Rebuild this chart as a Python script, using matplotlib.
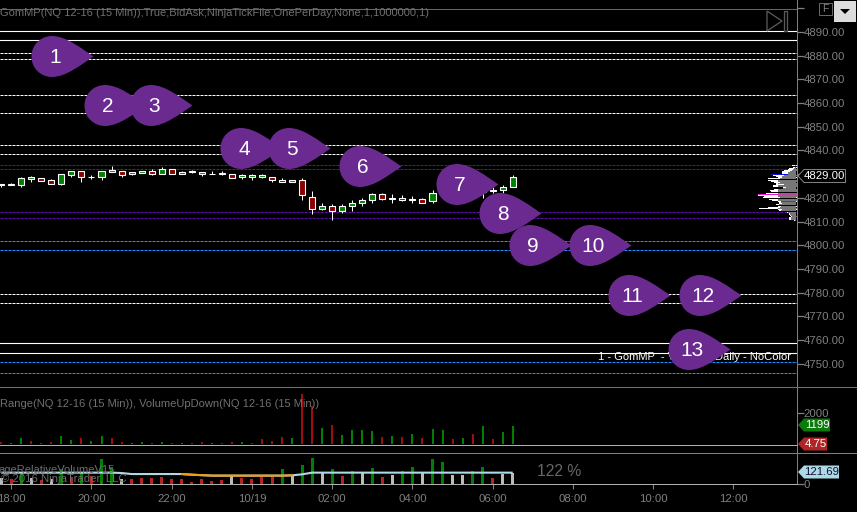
import matplotlib
matplotlib.use("Agg")
import matplotlib.pyplot as plt
from matplotlib.lines import Line2D
from matplotlib.patches import Polygon
from matplotlib.path import Path
from matplotlib.transforms import Affine2D, IdentityTransform, blended_transform_factory

plt.rcParams['font.family'] = ['Liberation Sans', 'DejaVu Sans']

# ---- data -------------------------------------------------------------
opens = [4825.25,4825.25,4825.5,4828,4828.25,4827.5,4826,4829.75,4831.25,4828.75,4829,4831,4831.25,4830.25,4830.5,4831.5,4830.25,4832,4830.25,4831,4830.25,4830,4830.25,4830.25,4828.75,4829,4829,4829,4827.5,4826.5,4827.5,4820.5,4815.5,4816.75,4814.25,4816.75,4817.75,4819,4821.5,4819.5,4819.75,4819,4819.5,4818.5,4822.25,4823,4823.5,4823,4822.5,4823,4823.25,4824.75]
highs = [4826,4826.25,4828.75,4829.25,4828.25,4827.75,4830.25,4831.25,4831.25,4829.75,4831.5,4833.5,4831.25,4830.75,4831.5,4832,4833,4832.25,4831.25,4831.75,4830.75,4831.25,4831.25,4830.25,4830.25,4830,4830,4829,4828.25,4827.5,4828.25,4822.75,4817.75,4817.25,4817.25,4819,4819.75,4822,4822.25,4821.5,4821,4820.75,4819.75,4823.25,4823.25,4824,4824.25,4823.75,4823,4824.5,4825.25,4829.5]
lows = [4824.75,4825.25,4824.75,4826.75,4827.25,4826,4825.5,4829,4826.5,4828,4827.5,4831,4829,4829.5,4830.5,4829.75,4830.25,4830.25,4830,4830.5,4829.25,4830,4829.75,4828.5,4827.75,4827.5,4828.25,4826.75,4826.5,4826.5,4819.25,4813,4815,4810.75,4813.75,4814.5,4816.75,4818,4819,4818,4818.75,4818,4817.75,4818,4821.5,4822.25,4822.75,4822,4820,4822.25,4822,4824.75]
closes = [4825.75,4825.75,4828.5,4828.75,4827.25,4826,4830,4831.25,4829,4829,4831.5,4831.75,4829.75,4830.75,4831.5,4830.25,4832,4830.25,4830.75,4831.25,4830.75,4830.25,4830.5,4828.5,4829.5,4829.5,4829.5,4827.5,4826.5,4827.5,4821,4815.5,4816.75,4814.25,4816.75,4818,4819,4821.5,4819.5,4819.75,4819,4819.5,4818,4822.25,4823,4823.5,4823,4822.5,4822.75,4823.5,4824.75,4829]

volume = [130,90,410,215,90,150,540,280,410,215,540,410,150,90,150,90,150,90,90,90,150,90,90,150,150,90,350,215,480,410,3280,2450,1060,1250,610,930,930,870,480,540,480,670,410,1000,930,350,410,670,1190,350,800,1199]
volume_up = [0,1,1,0,0,0,1,1,0,1,1,0,0,1,1,0,1,0,1,0,0,1,0,0,1,0,0,0,0,1,0,0,1,0,1,1,1,1,0,1,0,1,0,1,1,0,1,0,1,0,1,1]

rel_bars = [64,57,122,68,39,57,165,75,129,82,265,183,57,50,61,61,79,50,50,18,50,29,39,90,61,50,72,72,158,93,200,276,122,158,82,136,115,168,72,93,136,179,115,265,233,93,93,136,179,61,104,115]
rel_kind = ['gray','red','green','gray','red','gray','green','red','green','red','green','green','gray','red','red','red','red','red','red','red','red','red','red','gray','red','red','red','red','green','gray','green','green','gray','green','red','green','gray','green','red','gray','green','green','gray','green','green','gray','gray','green','green','red','gray','gray']
rel_line = [122,122,122,122,122,122,122,122,122,122,122,122,118,107,107,107,107,107,107,100,95,90,90,90,90,90,90,90,90,93,104,122,122,122,122,122,122,122,122,122,122,122,122,122,122,122,122,122,122,122,122,121.69]
rel_orange_from, rel_orange_to = 18, 29

solid_levels = [4890.25, 4886.5, 4758.75, 4754.5]
white_dashed = [4881.25, 4878.75, 4863.25, 4855.75, 4842.25, 4838.5, 4779.25, 4775.5]
purple_dashed = [4833.75, 4832, 4814, 4811.5]
blue_dashed = [4802, 4798, 4750.75, 4746]

marker_labels = ['1','2','3','4','5','6','7','8','9','10','11','12','13']
marker_x = [5.36,10.65,15.2,24.2,29,36.1,45.75,50,53,59,62.9,70,68.9]
marker_y = [4879.9,4859.2,4859.2,4841,4841,4833.5,4825.9,4813.6,4800.1,4800.1,4779,4779,4756.2]

profile_price = [4833.5-0.5*k for k in range(47)]
profile_outer = [4,3,7,8,12,14,14,25,23,20,18,28,28,25,22,20,20,23,13,13,22,26,25,30,38,38,32,33,27,24,18,17,17,20,18,28,37,18,17,9,7,7,6,5,7,7,2]
profile_inner = [1,1,2,3,4,6,8,8,12,14,14,16,18,18,16,18,12,18,10,13,18,18,18,18,18,18,18,16,18,18,15,15,14,17,15,16,18,14,15,8,6,6,5,4,5,5,1]

price_ticks = [4900,4890,4880,4870,4860,4850,4840,4830,4820,4810,4800,4790,4780,4770,4760,4750]
time_tick_bars = [1,9,17,25,33,41,49,57,65,73]
time_labels = ['18:00','20:00','22:00','10/19','02:00','04:00','06:00','08:00','10:00','12:00']

# ---- layout -----------------------------------------------------------
W, H = 857, 512
GRAY = '#808080'
fig = plt.figure(figsize=(W/100, H/100), dpi=100, facecolor='black')
pxT = Affine2D().scale(1, -1).translate(0, H)

def axes_px(x0, y0, x1, y1):
    a = fig.add_axes([x0/W, 1-y1/H, (x1-x0)/W, (y1-y0)/H], facecolor='black')
    a.set_xlim(-0.12, 79.29)
    for s in a.spines.values():
        s.set_visible(False)
    a.tick_params(axis='x', bottom=False, labelbottom=False)
    a.yaxis.tick_right()
    a.tick_params(axis='y', colors=GRAY, length=5, width=0.9, pad=0, labelsize=8.2, labelcolor=GRAY)
    return a

ax = axes_px(0, 0, 796.5, 386)
ax.set_ylim(4740.6, 4903.5)
axv = axes_px(0, 386, 796.5, 444)
axv.set_ylim(0, 3776)
axr = axes_px(0, 452, 796.5, 484)
axr.set_ylim(0, 344)

px = 0.72  # one pixel in points
xs = list(range(len(opens)))

# levels
ax.axhline(4899.75, color='#1E78C8', lw=px, zorder=1)
for v in solid_levels:
    ax.axhline(v, color='white', lw=1.1*px, zorder=1)
for v in white_dashed:
    ax.axhline(v, color='white', lw=px, ls=(0, (3, 1)), zorder=1)
for v in purple_dashed:
    ax.axhline(v, color='#5A0FA5', lw=px, ls=(0, (3, 1)), zorder=1)
for v in blue_dashed:
    ax.axhline(v, color='#1E90FF', lw=px, ls=(0, (3, 1)), zorder=1)

# candles
ax.vlines(xs, lows, highs, color='white', lw=px, zorder=3)
body_col = ['#008000' if c > o else '#8B0000' for o, c in zip(opens, closes)]
ax.bar(xs, [abs(c-o) for o, c in zip(opens, closes)], bottom=[min(o, c) for o, c in zip(opens, closes)],
       width=0.6, color=body_col, edgecolor='white', linewidth=px*1.1, zorder=4)

# volume profile, hanging left from the price axis
right = ax.get_xlim()[1]
PX = 1/10.03
outer_col = ['white']*47
outer_col[7] = '#1010E0'
outer_col[24] = '#F010E0'
inner_col = ['#777777']*47
inner_col[24] = '#C040A0'
inner_col[30] = '#4040C0'
ax.barh(profile_price, [w*PX for w in profile_outer], left=[right-w*PX for w in profile_outer],
        height=0.45, color=outer_col, linewidth=0, zorder=3)
ax.barh(profile_price, [w*PX for w in profile_inner], left=[right-w*PX for w in profile_inner],
        height=0.45, color=inner_col, linewidth=0, zorder=3.5)

ax.text(791, 4752.9, '1 - GomMP  - Volume - Daily - NoColor', color='white', fontsize=8,
        ha='right', va='center', transform=blended_transform_factory(IdentityTransform(), ax.transData),
        zorder=5)

# teardrop markers
r = 20.5; cx = -3.5; tip = 38.0
tear = Path([(cx-r, 0), (cx-r, 11.5), (cx-11.5, r), (cx, r), (cx+14, r), (tip-12, 8), (tip, 0),
             (tip-12, -8), (cx+14, -r), (cx, -r), (cx-11.5, -r), (cx-r, -11.5), (cx-r, 0), (cx-r, 0)],
            [Path.MOVETO, Path.CURVE4, Path.CURVE4, Path.CURVE4, Path.CURVE4, Path.CURVE4, Path.CURVE4,
             Path.CURVE4, Path.CURVE4, Path.CURVE4, Path.CURVE4, Path.CURVE4, Path.CURVE4, Path.CLOSEPOLY])
ms = 2*tip*px
for k, (lab, mx, my) in enumerate(zip(marker_labels, marker_x, marker_y)):
    ax.plot([mx], [my], marker=tear, ms=ms, mfc='#6B2A90', mec='none', ls='none', zorder=6+k*0.01, clip_on=False)
    ax.annotate(lab, (mx, my), xytext=(0, -1.2), textcoords='offset points', color='white', fontsize=15,
                ha='center', va='center', zorder=6+k*0.01+0.005)

ax.set_yticks(price_ticks)
ax.set_yticklabels([''] + [f'{v:.2f}' for v in price_ticks[1:]])

ax.text(0, 12.5, 'GomMP(NQ 12-16 (15 Min)),True,BidAsk,NinjaTickFile,OnePerDay,None,1,1000000,1)',
        color='#707070', fontsize=8, ha='left', va='center', transform=pxT)

# volume panel
vcol = ['#008000' if u else '#A00D0D' for u in volume_up]
axv.bar(xs, volume, width=0.2, color=vcol, linewidth=0, zorder=2)
axv.set_yticks([2000])
axv.set_yticklabels(['2000'])
axv.text(0, 404, 'Range(NQ 12-16 (15 Min)), VolumeUpDown(NQ 12-16 (15 Min))',
         color='#707070', fontsize=8, ha='left', va='center', zorder=5, transform=pxT)

# relative volume panel
kind = {'green': '#008000', 'red': '#BB2222', 'gray': '#BBBBBB'}
axr.bar(xs, rel_bars, width=0.3, color=[kind[k] for k in rel_kind], linewidth=0, zorder=2)
axr.plot(xs, rel_line, color='#ADD8E6', lw=1.5, zorder=3, solid_capstyle='butt')
axr.plot(xs[rel_orange_from:rel_orange_to+1], rel_line[rel_orange_from:rel_orange_to+1], color='#F39C12', lw=1.5, zorder=3.1)
axr.set_yticks([0])
axr.set_yticklabels(['0'])
axr.set_xticks(time_tick_bars)
axr.set_xticklabels(time_labels)
axr.tick_params(axis='x', bottom=True, labelbottom=True, colors=GRAY, length=3.5, width=0.8, pad=3.5, labelsize=8.2, labelcolor=GRAY)
for txt, xx, yy, ha, fs, col in [('ageRelativeVolumeV15', 115, 470, 'right', 8, '#6e6e6e'),
                                 ('© 2016 NinjaTrader, LLC', 1, 479, 'left', 8.2, '#6e6e6e'),
                                 ('122 %', 537, 472, 'left', 11.3, '#666666')]:
    axr.text(xx, yy, txt, color=col, fontsize=fs, ha=ha, va='center', transform=pxT, zorder=6, clip_on=True)

# frame lines and chrome, in figure pixel space
def line(x0, y0, x1, y1, c, lw=1.0):
    fig.add_artist(Line2D([x0, x1], [y0, y1], color=c, lw=lw*px, transform=pxT))
line(796.5, 0, 796.5, 484, GRAY)
line(0, 386.5, W, 386.5, '#707070')
line(0, 452.5, W, 452.5, '#808080')
line(0, 444.5, 796.5, 444.5, '#B0B0B0')
line(0, 484, 796.5, 484, '#B0B0B0')

def poly(pts, fc, ec='none', lw=1.0):
    fig.add_artist(Polygon(pts, closed=True, facecolor=fc, edgecolor=ec, lw=lw*px, transform=pxT))
# play icon
poly([(767, 11), (767, 31), (782, 21)], 'none', '#5A5A5A', 1.3)
poly([(783.5, 10.5), (786.5, 10.5), (786.5, 31), (783.5, 31)], 'none', '#5A5A5A', 1.3)
# F box
poly([(819, 2.5), (831.5, 2.5), (831.5, 14.5), (819, 14.5)], 'none', '#666666')
fig.text(825.2/W, 1-8.7/H, 'F', color='#808080', fontsize=7.5, ha='center', va='center')
# dropdown
poly([(834, 1), (855.5, 1), (855.5, 22), (834, 22)], '#DDDDDD')
poly([(840, 9), (850, 9), (845, 14)], 'black')

def tag(y, x1, txt, fc, ec, tc):
    poly([(798, y), (804, y-6.5), (x1, y-6.5), (x1, y+6.5), (804, y+6.5)], fc, ec)
    fig.text((804+x1)/2/W, 1-(y+0.3)/H, txt, color=tc, fontsize=8.2, ha='center', va='center')
tag(176, 845.5, f'{closes[-1]:.2f}', 'black', GRAY, 'white')
tag(425, 830, f'{volume[-1]}', '#0A7A0A', 'none', 'white')
tag(444, 827, '4.75', '#B02525', 'none', 'white')
tag(472, 839, f'{rel_line[-1]:.2f}', '#ADD8E6', 'none', '#111133')

fig.savefig('out.png', dpi=100, facecolor='black')
